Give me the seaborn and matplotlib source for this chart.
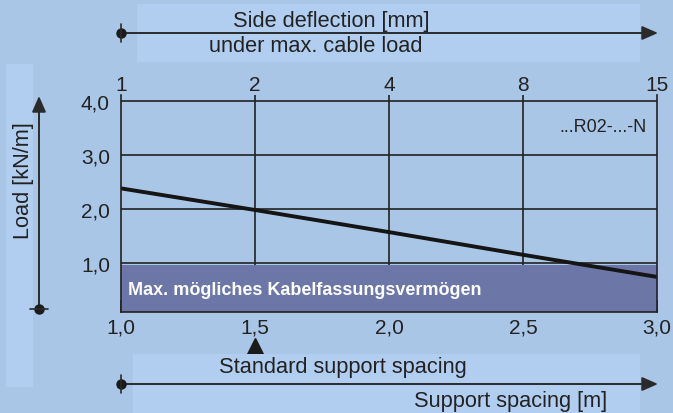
import matplotlib
matplotlib.use("Agg")
import matplotlib.pyplot as plt
from matplotlib.patches import Rectangle
import seaborn as sns
import pandas as pd

# ---- data ----
support_spacing = [1.0, 1.5, 2.0, 2.5, 3.0]
load_kn_m = [2.38, 1.98, 1.57, 1.15, 0.74]
bottom_ticks = [1.0, 1.5, 2.0, 2.5, 3.0]
bottom_labels = ["1,0", "1,5", "2,0", "2,5", "3,0"]
y_ticks = [1.0, 2.0, 3.0, 4.0]
y_labels = ["1,0", "2,0", "3,0", "4,0"]
deflection_labels = ["1", "2", "4", "8", "15"]
cable_capacity = 0.96
standard_spacing = 1.5

W, H = 673, 414
BG = "#a9c6e7"
PANEL = "#b1cef0"
DARK = "#6c77a7"
INK = "#222222"

sns.set_style("white")
plt.rcParams["font.family"] = ["Liberation Sans", "DejaVu Sans"]

fig = plt.figure(figsize=(W / 100, H / 100), dpi=100, facecolor=BG)

def fx(x):
    return x / W

def fy(y):
    return 1 - y / H

# lighter panels
for (x0, y0, x1, y1) in [(137, 5, 640, 63), (6, 65, 33, 388), (133, 355, 640, 414)]:
    fig.patches.append(Rectangle((fx(x0), fy(y1)), fx(x1) - fx(x0), fy(y0) - fy(y1),
                                 transform=fig.transFigure, facecolor=PANEL,
                                 edgecolor="none", zorder=0))

ax = fig.add_axes([fx(121), fy(313), fx(657) - fx(121), fy(96) - fy(313)])
ax.set_facecolor("none")
ymin, ymax = 0.09, 4.11
ax.set_xlim(1.0, 3.0)
ax.set_ylim(ymin, ymax)

for yv in y_ticks:
    ax.axhline(yv, color=INK, lw=1.2, zorder=2)
for xv in bottom_ticks[1:-1]:
    ax.axvline(xv, color=INK, lw=1.2, zorder=2)

ax.axhspan(ymin, cable_capacity, facecolor=DARK, edgecolor="none", zorder=3)

df = pd.DataFrame({"spacing": support_spacing, "load": load_kn_m})
sns.lineplot(data=df, x="spacing", y="load", ax=ax, color="#151515", lw=2.8, zorder=4)

for s in ["left", "right", "bottom"]:
    ax.spines[s].set_color(INK)
    ax.spines[s].set_linewidth(1.2)
    ax.spines[s].set_zorder(5)
ax.spines["top"].set_visible(False)

ax.set_xticks(bottom_ticks)
ax.set_xticklabels(bottom_labels)
ax.set_yticks(y_ticks)
ax.set_yticklabels(y_labels)
ax.tick_params(axis="y", direction="out", length=6, width=1.2, color=INK,
               labelsize=15, labelcolor=INK, pad=2)
ax.tick_params(axis="x", direction="in", length=9, width=1.2, color=INK,
               labelsize=15, labelcolor=INK, pad=4)
ax.set_xlabel("")
ax.set_ylabel("")

top = ax.twiny()
top.set_xlim(ax.get_xlim())
top.set_xticks(bottom_ticks)
top.set_xticklabels(deflection_labels)
top.tick_params(axis="x", length=0, labelsize=15, labelcolor=INK, pad=1)
for s in top.spines.values():
    s.set_visible(False)

ax.text(1.027, 0.5 * (ymin + cable_capacity) - 0.02,
        "Max. mögliches Kabelfassungsvermögen", color="white", fontsize=13,
        fontweight="bold", ha="left", va="center", zorder=6)
ax.text(2.96, 3.52, "...R02-...-N", color=INK, fontsize=13, ha="right", va="center")

# standard spacing triangle
ax.plot([standard_spacing], [ymin - 0.66], marker="^", markersize=14, color="#1a1a1a",
        clip_on=False, zorder=6)

# figure-level axis arrows
def arrow(x0, y0, x1, y1):
    fig.add_artist(matplotlib.patches.FancyArrowPatch(
        (fx(x0), fy(y0)), (fx(x1), fy(y1)), transform=fig.transFigure,
        arrowstyle="-|>,head_length=0.8,head_width=0.35", mutation_scale=12,
        color="#2a2a2a", lw=1.4, shrinkA=0, shrinkB=0))

def dot(x, y, horiz=True):
    fig.add_artist(plt.Line2D([fx(x)], [fy(y)], marker="o", markersize=6.5,
                              color="#1a1a1a", transform=fig.transFigure))
    if horiz:
        fig.add_artist(plt.Line2D([fx(x), fx(x)], [fy(y - 9), fy(y + 9)],
                                  color="#2a2a2a", lw=1.2, transform=fig.transFigure))
    else:
        fig.add_artist(plt.Line2D([fx(x - 9), fx(x + 9)], [fy(y), fy(y)],
                                  color="#2a2a2a", lw=1.2, transform=fig.transFigure))

arrow(121, 34, 658, 34)
dot(121, 34)
arrow(121, 385, 658, 385)
dot(121, 385)
arrow(39, 310, 39, 97)
dot(39, 310, horiz=False)

fs = 15.7
fig.text(fx(331), fy(22), "Side deflection [mm]", fontsize=fs, color=INK,
         ha="center", va="center")
fig.text(fx(316), fy(47), "under max. cable load", fontsize=fs, color=INK,
         ha="center", va="center")
fig.text(fx(24), fy(181), "Load [kN/m]", fontsize=fs, color=INK, rotation=90,
         ha="center", va="center")
fig.text(fx(343), fy(367), "Standard support spacing", fontsize=fs, color=INK,
         ha="center", va="center")
fig.text(fx(511), fy(402), "Support spacing [m]", fontsize=fs, color=INK,
         ha="center", va="center")

fig.savefig("out.png", dpi=100, facecolor=BG)
